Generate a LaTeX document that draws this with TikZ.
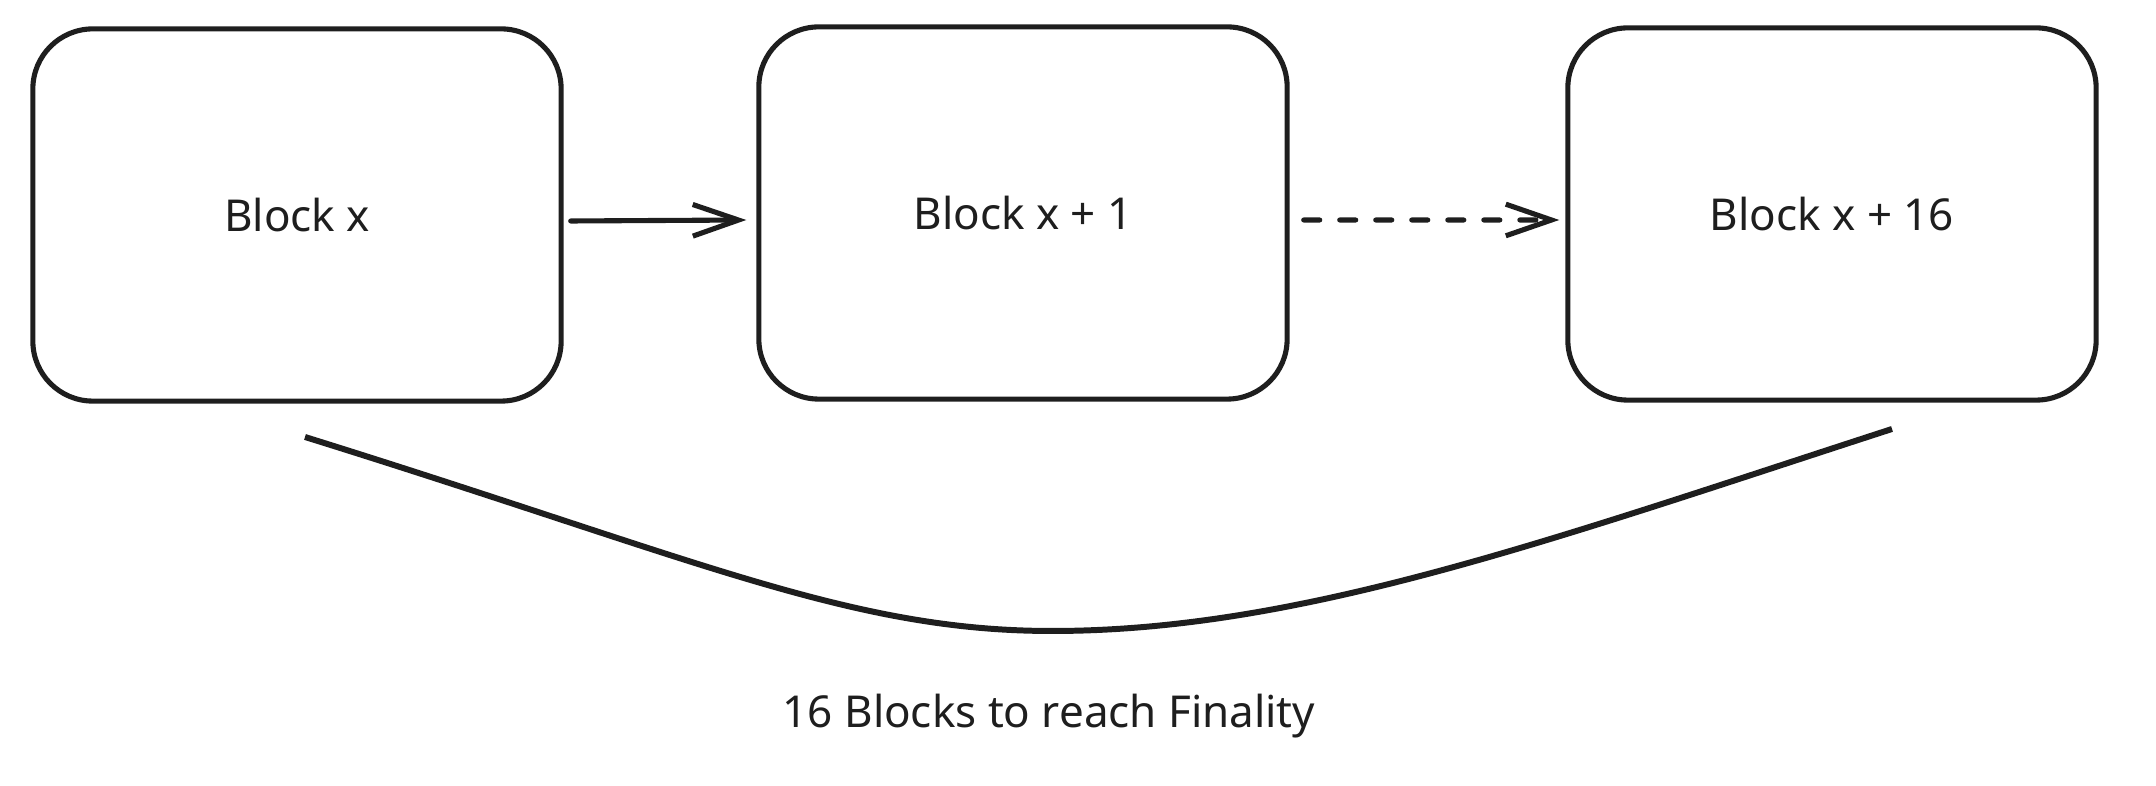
\documentclass[tikz,border=0pt]{standalone}
\usepackage{fontspec}
\setmainfont{Noto Sans}
\usetikzlibrary{arrows.meta}
\definecolor{ink}{HTML}{1E1E1E}
\begin{document}
\begin{tikzpicture}[x=0.01cm,y=-0.01cm,
  blockbox/.style={draw=ink,line width=1.45pt,rounded corners=0.6cm,minimum width=5.28cm,minimum height=3.72cm,font=\fontsize{12.5}{15}\selectfont,text=ink},
  conn/.style={draw=ink,line width=1.45pt,line cap=round,-{Straight Barb[length=13pt,width=9pt,line width=1.45pt]}},
  lbl/.style={font=\fontsize{12.5}{15}\selectfont,text=ink}]
\useasboundingbox (0,0) rectangle (2156,786);
\node[blockbox] (b1) at (297,215) {Block x};
\node[blockbox] (b2) at (1023,213) {Block x + 1};
\node[blockbox] (b3) at (1832,214) {Block x + 16};
\draw[conn] ([xshift=0.07cm,yshift=-0.06cm]b1.east) -- ([xshift=-0.1cm,yshift=-0.07cm]b2.west);
\draw[conn,dash pattern=on 0.16cm off 0.2cm] ([xshift=0.14cm,yshift=-0.07cm]b2.east) -- ([xshift=-0.06cm,yshift=-0.06cm]b3.west);
\coordinate (c1) at (305,437);
\coordinate (cm) at (1052,631);
\coordinate (c2) at (1892,429);
\draw[ink,line width=1.7pt] (c1) .. controls (700,560) and (850,631) .. (cm) .. controls (1300,631) and (1550,540) .. (c2);
\node[lbl] (fin) at (1049,716) {16 Blocks to reach Finality};
\end{tikzpicture}
\end{document}
